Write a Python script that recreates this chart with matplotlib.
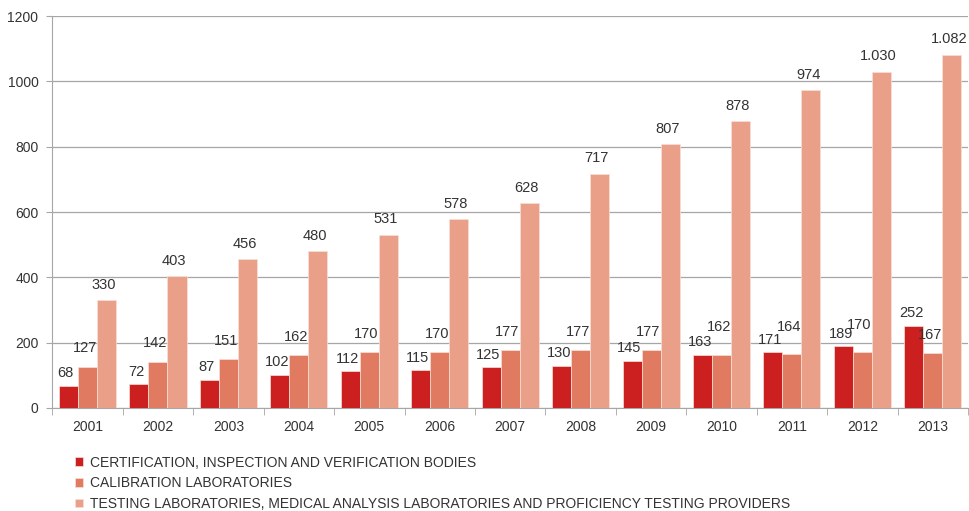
import numpy as np
import matplotlib
matplotlib.use("Agg")
from matplotlib import pyplot as plt

years = ["2001", "2002", "2003", "2004", "2005", "2006", "2007",
         "2008", "2009", "2010", "2011", "2012", "2013"]
certification = [68, 72, 87, 102, 112, 115, 125, 130, 145, 163, 171, 189, 252]
calibration = [127, 142, 151, 162, 170, 170, 177, 177, 177, 162, 164, 170, 167]
testing = [330, 403, 456, 480, 531, 578, 628, 717, 807, 878, 974, 1030, 1082]

labels = ["CERTIFICATION, INSPECTION AND VERIFICATION BODIES",
          "CALIBRATION LABORATORIES",
          "TESTING LABORATORIES, MEDICAL ANALYSIS LABORATORIES AND PROFICIENCY TESTING PROVIDERS"]
colors = ["#cc1f1f", "#e07a60", "#eaa088"]

plt.rcParams['font.family'] = ['Liberation Sans', 'DejaVu Sans']

fig = plt.figure(figsize=(9.69, 5.11), dpi=100)
ax = fig.add_axes([0.054, 0.2016, 0.945, 0.767])

x = np.arange(len(years))
w = 0.27
series = [certification, calibration, testing]

def fmt(v):
    return f"{v:,}".replace(",", ".")

for i, (vals, c, lab) in enumerate(zip(series, colors, labels)):
    pos = x + (i - 1) * w
    ax.bar(pos, vals, width=w, color=c, edgecolor="#f8e0d8", linewidth=0.5,
           label=lab, zorder=3)
    for k, (px, v) in enumerate(zip(pos, vals)):
        off = [4, 8, 6][i]
        # push calibration label up where it would collide with the red one
        if i == 1 and calibration[k] - 10 < certification[k] < calibration[k] + 40:
            off = 15
        ax.annotate(fmt(v), (px, v), xytext=(-2, off),
                    textcoords="offset points", ha="center", va="bottom",
                    fontsize=10.5, color="#333333", zorder=4)

ax.set_ylim(0, 1200)
ax.set_xlim(-0.5, len(years) - 0.5)
ax.set_yticks(range(0, 1201, 200))
ax.yaxis.grid(True, color="#a6a6a6", linewidth=0.9, zorder=0)
ax.set_axisbelow(True)

ax.set_xticks(x)
ax.set_xticklabels(years)
ax.set_xticks(np.arange(-0.5, len(years), 1), minor=True)
ax.tick_params(axis="x", which="major", length=0, pad=9, labelsize=10, labelcolor="#333333")
ax.tick_params(axis="x", which="minor", length=5, color="#a6a6a6")
ax.tick_params(axis="y", length=4, color="#a6a6a6", labelsize=10, labelcolor="#333333", pad=6)

for s in ["top", "right"]:
    ax.spines[s].set_visible(False)
ax.spines["left"].set_color("#a6a6a6")
ax.spines["bottom"].set_color("#a6a6a6")

fig.legend(loc="upper left", bbox_to_anchor=(0.07, 0.122), frameon=False,
           fontsize=10, handlelength=0.6, handleheight=0.6, handletextpad=0.5,
           labelspacing=0.48, labelcolor="#333333", borderpad=0)

fig.savefig("out.png", dpi=100)
